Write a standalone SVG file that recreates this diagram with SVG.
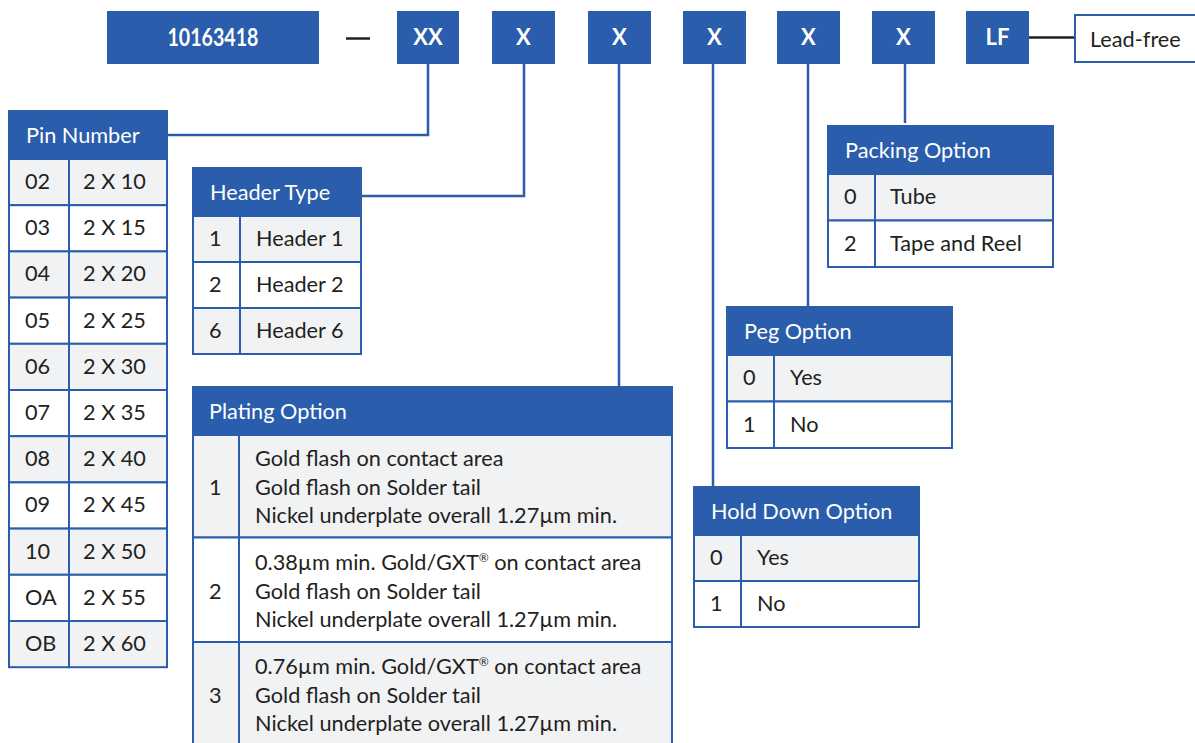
<svg xmlns="http://www.w3.org/2000/svg" width="1195" height="743" viewBox="0 0 1195 743">
<style>
.bx{fill:#2a5dab}
.hd{fill:#2a5dab;stroke:#2a5dab;stroke-width:2}
.g{fill:#f1f2f4;stroke:#2a5dab;stroke-width:2}
.w{fill:#ffffff;stroke:#2a5dab;stroke-width:2}
.bt{font-family:Lato,"Open Sans",sans-serif;font-weight:bold;font-size:22px;fill:#ffffff;text-anchor:middle}
.ht{font-family:Lato,"Open Sans",sans-serif;font-size:21.7px;fill:#ffffff}
.t{font-family:Lato,"Open Sans",sans-serif;font-size:21.7px;fill:#231f20}
.sup{font-size:12px}
.cn{fill:none;stroke:#2a5dab;stroke-width:2.5}
.dk{fill:none;stroke:#231f20;stroke-width:2.5}
</style>
<rect width="1195" height="743" fill="#ffffff"/>
<g id="connectors">
<path class="cn" d="M428,64 V135 H167"/>
<path class="cn" d="M524,64 V196 H361"/>
<path class="cn" d="M619,64 V387"/>
<path class="cn" d="M713,64 V487"/>
<path class="cn" d="M808,64 V307"/>
<path class="cn" d="M905,64 V123"/>
<path class="dk" d="M1028,37.5 H1075"/>
</g>
<g id="partnumber">
<rect class="bx" x="107" y="11" width="212" height="53"/>
<text class="bt" x="213" y="46" style="font-size:24px" textLength="91" lengthAdjust="spacingAndGlyphs">10163418</text>
<path class="dk" d="M346,38.5 H370"/>
<rect class="bx" x="397" y="11" width="62" height="53"/>
<text class="bt" x="428" y="45">XX</text>
<rect class="bx" x="492" y="11" width="63" height="53"/>
<text class="bt" x="523.5" y="45">X</text>
<rect class="bx" x="588" y="11" width="63" height="53"/>
<text class="bt" x="619.5" y="45">X</text>
<rect class="bx" x="683" y="11" width="63" height="53"/>
<text class="bt" x="714.5" y="45">X</text>
<rect class="bx" x="777" y="11" width="63" height="53"/>
<text class="bt" x="808.5" y="45">X</text>
<rect class="bx" x="872" y="11" width="63" height="53"/>
<text class="bt" x="903.5" y="45">X</text>
<rect class="bx" x="966" y="11" width="63" height="53"/>
<text class="bt" x="997.5" y="45">LF</text>
</g>
<g id="leadfree">
<rect class="w" x="1075" y="15" width="122" height="47"/>
<text class="t" x="1090" y="47">Lead-free</text>
</g>
<g id="pin-number">
<rect class="hd" x="9" y="111" width="158" height="48"/>
<text class="ht" x="26" y="143">Pin Number</text>
<rect class="g" x="9" y="159" width="60" height="46.2"/><rect class="g" x="69" y="159" width="98" height="46.2"/>
<text class="t" x="25" y="189">02</text><text class="t" x="83" y="189">2 X 10</text>
<rect class="w" x="9" y="205.2" width="60" height="46.2"/><rect class="w" x="69" y="205.2" width="98" height="46.2"/>
<text class="t" x="25" y="235.2">03</text><text class="t" x="83" y="235.2">2 X 15</text>
<rect class="g" x="9" y="251.4" width="60" height="46.2"/><rect class="g" x="69" y="251.4" width="98" height="46.2"/>
<text class="t" x="25" y="281.4">04</text><text class="t" x="83" y="281.4">2 X 20</text>
<rect class="w" x="9" y="297.6" width="60" height="46.2"/><rect class="w" x="69" y="297.6" width="98" height="46.2"/>
<text class="t" x="25" y="327.6">05</text><text class="t" x="83" y="327.6">2 X 25</text>
<rect class="g" x="9" y="343.8" width="60" height="46.2"/><rect class="g" x="69" y="343.8" width="98" height="46.2"/>
<text class="t" x="25" y="373.8">06</text><text class="t" x="83" y="373.8">2 X 30</text>
<rect class="w" x="9" y="390" width="60" height="46.2"/><rect class="w" x="69" y="390" width="98" height="46.2"/>
<text class="t" x="25" y="420">07</text><text class="t" x="83" y="420">2 X 35</text>
<rect class="g" x="9" y="436.2" width="60" height="46.2"/><rect class="g" x="69" y="436.2" width="98" height="46.2"/>
<text class="t" x="25" y="466.2">08</text><text class="t" x="83" y="466.2">2 X 40</text>
<rect class="w" x="9" y="482.4" width="60" height="46.2"/><rect class="w" x="69" y="482.4" width="98" height="46.2"/>
<text class="t" x="25" y="512.4">09</text><text class="t" x="83" y="512.4">2 X 45</text>
<rect class="g" x="9" y="528.6" width="60" height="46.2"/><rect class="g" x="69" y="528.6" width="98" height="46.2"/>
<text class="t" x="25" y="558.6">10</text><text class="t" x="83" y="558.6">2 X 50</text>
<rect class="w" x="9" y="574.8" width="60" height="46.2"/><rect class="w" x="69" y="574.8" width="98" height="46.2"/>
<text class="t" x="25" y="604.8">OA</text><text class="t" x="83" y="604.8">2 X 55</text>
<rect class="g" x="9" y="621" width="60" height="46.2"/><rect class="g" x="69" y="621" width="98" height="46.2"/>
<text class="t" x="25" y="651">OB</text><text class="t" x="83" y="651">2 X 60</text>
</g>
<g id="header-type">
<rect class="hd" x="193" y="168" width="168" height="48"/>
<text class="ht" x="210" y="200">Header Type</text>
<rect class="g" x="193" y="216" width="47" height="46"/><rect class="g" x="240" y="216" width="121" height="46"/>
<text class="t" x="209" y="246">1</text><text class="t" x="256" y="246">Header 1</text>
<rect class="w" x="193" y="262" width="47" height="46"/><rect class="w" x="240" y="262" width="121" height="46"/>
<text class="t" x="209" y="292">2</text><text class="t" x="256" y="292">Header 2</text>
<rect class="g" x="193" y="308" width="47" height="46"/><rect class="g" x="240" y="308" width="121" height="46"/>
<text class="t" x="209" y="338">6</text><text class="t" x="256" y="338">Header 6</text>
</g>
<g id="plating-option">
<rect class="hd" x="193" y="387" width="479" height="48"/>
<text class="ht" x="209" y="419">Plating Option</text>
<rect class="g" x="193" y="435" width="46" height="102.5"/><rect class="g" x="239" y="435" width="433" height="102.5"/>
<text class="t" x="209" y="495">1</text>
<text class="t" x="255" y="465.5">Gold flash on contact area</text>
<text class="t" x="255" y="494.5">Gold flash on Solder tail</text>
<text class="t" x="255" y="523">Nickel underplate overall 1.27µm min.</text>
<rect class="w" x="193" y="537.5" width="46" height="104.5"/><rect class="w" x="239" y="537.5" width="433" height="104.5"/>
<text class="t" x="209" y="599">2</text>
<text class="t" x="255" y="569.5">0.38µm min. Gold/GXT<tspan class="sup" dy="-8">®</tspan><tspan dy="8"> on contact area</tspan></text>
<text class="t" x="255" y="598.5">Gold flash on Solder tail</text>
<text class="t" x="255" y="627">Nickel underplate overall 1.27µm min.</text>
<rect class="g" x="193" y="642" width="46" height="106"/><rect class="g" x="239" y="642" width="433" height="106"/>
<text class="t" x="209" y="703">3</text>
<text class="t" x="255" y="673.5">0.76µm min. Gold/GXT<tspan class="sup" dy="-8">®</tspan><tspan dy="8"> on contact area</tspan></text>
<text class="t" x="255" y="702.5">Gold flash on Solder tail</text>
<text class="t" x="255" y="731">Nickel underplate overall 1.27µm min.</text>
</g>
<g id="packing-option">
<rect class="hd" x="828" y="126" width="225" height="48"/>
<text class="ht" x="845" y="158">Packing Option</text>
<rect class="g" x="828" y="174" width="47" height="46.5"/><rect class="g" x="875" y="174" width="178" height="46.5"/>
<text class="t" x="844" y="204">0</text><text class="t" x="890" y="204">Tube</text>
<rect class="w" x="828" y="220.5" width="47" height="46.5"/><rect class="w" x="875" y="220.5" width="178" height="46.5"/>
<text class="t" x="844" y="251">2</text><text class="t" x="890" y="251">Tape and Reel</text>
</g>
<g id="peg-option">
<rect class="hd" x="727" y="307" width="225" height="48"/>
<text class="ht" x="744" y="339">Peg Option</text>
<rect class="g" x="727" y="355" width="47" height="46.5"/><rect class="g" x="774" y="355" width="178" height="46.5"/>
<text class="t" x="743" y="385">0</text><text class="t" x="790" y="385">Yes</text>
<rect class="w" x="727" y="401.5" width="47" height="46.5"/><rect class="w" x="774" y="401.5" width="178" height="46.5"/>
<text class="t" x="743" y="432">1</text><text class="t" x="790" y="432">No</text>
</g>
<g id="hold-down-option">
<rect class="hd" x="694" y="487" width="225" height="48"/>
<text class="ht" x="711" y="519">Hold Down Option</text>
<rect class="g" x="694" y="535" width="47" height="46"/><rect class="g" x="741" y="535" width="178" height="46"/>
<text class="t" x="710" y="565">0</text><text class="t" x="757" y="565">Yes</text>
<rect class="w" x="694" y="581" width="47" height="46"/><rect class="w" x="741" y="581" width="178" height="46"/>
<text class="t" x="710" y="611">1</text><text class="t" x="757" y="611">No</text>
</g>
</svg>
